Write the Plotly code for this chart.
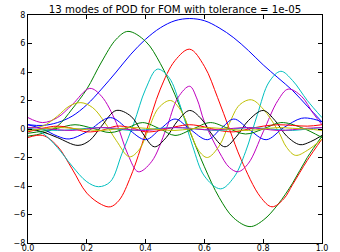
import plotly.graph_objects as go

title_text = "13 modes of POD for FOM with tolerance = 1e-05"

# mode 1 (blue)
x1 = [0, 0.05, 0.1, 0.15, 0.2, 0.25, 0.3, 0.35, 0.4, 0.45, 0.5, 0.55, 0.6, 0.65, 0.7, 0.75, 0.8, 0.85, 0.9, 0.95, 1.0]
y1 = [0.3, 0.25, 0.45, 0.9, 1.7, 2.8, 4.0, 5.25, 6.3, 7.1, 7.6, 7.75, 7.6, 7.1, 6.4, 5.5, 4.5, 3.6, 2.7, 1.6, 0.5]
# mode 2 (green)
x2 = [0, 0.05, 0.1, 0.15, 0.2, 0.25, 0.3, 0.34, 0.4, 0.45, 0.5, 0.547, 0.6, 0.65, 0.7, 0.755, 0.8, 0.85, 0.9, 0.95, 1.0]
y2 = [-0.5, -0.3, 0.2, 1.4, 2.8, 4.7, 6.3, 6.85, 6.15, 4.6, 2.4, 0.0, -2.65, -4.8, -6.25, -6.85, -6.4, -5.3, -3.8, -2.0, -0.5]
# mode 3 (red)
x3 = [0, 0.05, 0.1, 0.15, 0.2, 0.25, 0.28, 0.31, 0.35, 0.4, 0.45, 0.5, 0.55, 0.6, 0.645, 0.685, 0.725, 0.79, 0.83, 0.87, 0.9, 0.95, 1.0]
y3 = [-0.6, -0.45, -1.2, -2.8, -4.5, -5.3, -5.46, -5.0, -3.3, -0.3, 2.8, 4.8, 5.6, 4.4, 2.2, 0.0, -2.15, -4.75, -5.46, -4.9, -3.9, -2.2, -0.7]
# mode 4 (cyan)
x4 = [0, 0.05, 0.1, 0.15, 0.2, 0.24, 0.28, 0.32, 0.36, 0.4, 0.44, 0.48, 0.52, 0.56, 0.6, 0.655, 0.7, 0.74, 0.78, 0.82, 0.86, 0.9, 0.95, 1.0]
y4 = [0.1, -0.3, -1.3, -2.6, -3.7, -4.05, -3.7, -1.7, 0.4, 2.8, 4.2, 3.6, 1.5, -1.2, -3.3, -4.2, -3.4, -1.6, 1.0, 3.3, 4.05, 3.4, 2.0, 0.8]
# mode 5 (magenta)
x5 = [0, 0.05, 0.1, 0.15, 0.21, 0.25, 0.3, 0.34, 0.375, 0.42, 0.47, 0.51, 0.55, 0.575, 0.6, 0.65, 0.685, 0.715, 0.75, 0.8, 0.85, 0.885, 0.93, 0.97, 1.0]
y5 = [0.8, 0.45, 0.8, 1.7, 2.85, 2.3, 0.45, -1.8, -3.0, -2.3, 0.0, 2.2, 3.0, 2.1, 0.5, -1.6, -2.7, -3.0, -2.4, -0.2, 2.0, 2.8, 2.3, 1.1, 0.3]
# mode 6 (yellow)
x6 = [0, 0.05, 0.1, 0.14, 0.18, 0.22, 0.26, 0.3, 0.345, 0.38, 0.41, 0.445, 0.485, 0.52, 0.55, 0.58, 0.61, 0.65, 0.685, 0.72, 0.76, 0.8, 0.85, 0.88, 0.91, 0.95, 1.0]
y6 = [0.1, 0.2, 0.9, 1.6, 1.85, 1.5, 0.5, -0.8, -1.95, -1.4, 0.0, 1.5, 2.0, 1.3, -0.1, -1.5, -2.0, -1.2, 0.4, 1.7, 2.05, 1.4, -0.1, -1.3, -1.85, -1.5, -0.7]
# mode 7 (black)
x7 = [0, 0.05, 0.1, 0.17, 0.21, 0.25, 0.3, 0.35, 0.39, 0.43, 0.47, 0.51, 0.55, 0.59, 0.63, 0.67, 0.71, 0.75, 0.8, 0.84, 0.88, 0.925, 0.96, 1.0]
y7 = [0.0, -0.2, -0.6, -1.15, -0.8, 0.2, 1.3, 0.9, -0.3, -1.25, -0.6, 0.6, 1.3, 0.7, -0.5, -1.25, -0.5, 0.6, 1.3, 0.6, -0.5, -1.1, -0.9, -0.45]
# mode 8 (blue)
x8 = [0, 0.05, 0.1, 0.14, 0.2, 0.28, 0.34, 0.4, 0.45, 0.5, 0.55, 0.61, 0.655, 0.7, 0.75, 0.81, 0.87, 0.93, 0.97, 1.0]
y8 = [0.3, 0.0, -0.5, -0.7, -0.2, 0.8, 0.0, -0.75, 0.0, 0.7, 0.0, -0.75, 0.0, 0.7, 0.0, -0.75, 0.1, 0.75, 0.7, 0.5]
# mode 9 (green)
x9 = [0, 0.05, 0.1, 0.16, 0.22, 0.28, 0.34, 0.39, 0.45, 0.5, 0.56, 0.62, 0.68, 0.74, 0.8, 0.86, 0.93, 1.0]
y9 = [-0.3, -0.15, 0.05, 0.3, 0.05, -0.25, 0.1, 0.45, 0.0, -0.45, 0.0, 0.45, 0.05, -0.35, 0.0, 0.45, 0.1, -0.6]
# modes 10-13 on a common grid
x_grid = [0, 0.05, 0.1, 0.15, 0.2, 0.25, 0.3, 0.35, 0.4, 0.45, 0.5, 0.55, 0.6, 0.65, 0.7, 0.75, 0.8, 0.85, 0.9, 0.95, 1.0]
y10 = [-0.2, 0.05, 0.2, 0.05, -0.2, -0.1, 0.2, 0.1, -0.2, -0.1, 0.15, 0.3, 0.15, -0.1, -0.2, 0.0, 0.2, 0.3, 0.25, 0.2, 0.3]
y11 = [0.0, -0.05, -0.1, -0.05, 0.05, 0.1, 0.0, -0.1, -0.05, 0.05, 0.1, 0.05, -0.05, -0.1, 0.0, 0.1, 0.05, -0.05, -0.1, 0.0, 0.1]
y12 = [0.1, 0.05, -0.05, -0.1, 0.0, 0.1, 0.05, -0.05, -0.1, 0.0, 0.1, 0.05, -0.05, -0.05, 0.05, 0.1, 0.0, -0.1, -0.05, 0.05, 0.1]
y13 = [-0.1, 0.0, 0.1, 0.05, -0.05, -0.1, 0.0, 0.1, 0.05, -0.05, -0.1, 0.0, 0.1, 0.05, -0.05, -0.1, 0.0, 0.1, 0.05, 0.0, -0.1]

x_tickvals = [0.0, 0.2, 0.4, 0.6, 0.8, 1.0]
x_ticktext = ["0.0", "0.2", "0.4", "0.6", "0.8", "1.0"]
y_tickvals = [-8, -6, -4, -2, 0, 2, 4, 6, 8]
y_ticktext = ["\u22128", "\u22126", "\u22124", "\u22122", "0", "2", "4", "6", "8"]

series = [
    (x1, y1, "#0000ff"), (x2, y2, "#008000"), (x3, y3, "#ff0000"),
    (x4, y4, "#00bfbf"), (x5, y5, "#bf00bf"), (x6, y6, "#bfbf00"),
    (x7, y7, "#000000"), (x8, y8, "#0000ff"), (x9, y9, "#008000"),
    (x_grid, y10, "#ff0000"), (x_grid, y11, "#00bfbf"),
    (x_grid, y12, "#bf00bf"), (x_grid, y13, "#bfbf00"),
]

fig = go.Figure()
for xs, ys, c in series:
    fig.add_trace(go.Scatter(x=xs, y=ys, mode="lines",
                             line=dict(color=c, width=1, shape="spline", smoothing=1.0),
                             showlegend=False, hoverinfo="skip"))

axis_common = dict(showline=True, linecolor="black", linewidth=1, mirror="ticks",
                   ticks="inside", ticklen=4, tickcolor="black", tickwidth=1,
                   showgrid=False, zeroline=False, automargin=False,
                   tickfont=dict(family="DejaVu Sans", size=8, color="black"))

fig.update_layout(
    width=340, height=252,
    margin=dict(l=28, r=18, t=15, b=9),
    paper_bgcolor="white", plot_bgcolor="white",
    font=dict(family="DejaVu Sans", size=8, color="black"),
    title=dict(text=title_text, x=0.5, xref="paper", xanchor="center",
               y=0.962, yref="container", yanchor="middle",
               font=dict(family="DejaVu Sans", size=10.2, color="black")),
    xaxis=dict(range=[0, 1], tickvals=x_tickvals, ticktext=x_ticktext,
               ticklabelstandoff=-3, **axis_common),
    yaxis=dict(range=[-8, 8], tickvals=y_tickvals, ticktext=y_ticktext, **axis_common),
)

fig.write_html("out.html", config={"displayModeBar": False},
               post_script="document.body.style.margin='0px';document.body.style.overflow='hidden';")
